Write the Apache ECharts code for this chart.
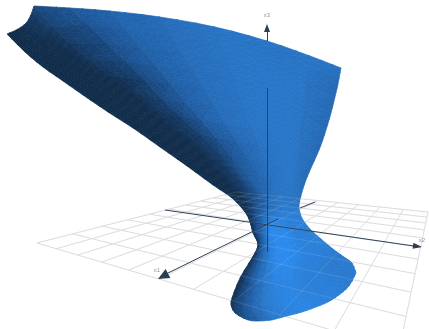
<!DOCTYPE html>
<html>
<head>
<meta charset="utf-8">
<style>html,body{margin:0;background:#fff}#main{width:429px;height:329px}</style>
<script src="https://cdn.jsdelivr.net/npm/echarts@6/dist/echarts.min.js"></script>
</head>
<body>
<div id="main"></div>
<script>
// floor ticks, one line per unit
var x1Ticks = [-5,-4,-3,-2,-1,0,1,2,3,4,5];
var x2Ticks = [-5,-4,-3,-2,-1,0,1,2,3,4,5];
// floor corners
var floorCorners = [[37,243],[399,350],[236,192],[428,212]];

// axes: visible pieces (the surface hides part of them)
var axisPieces = [[[267,41],[267,32]],[[267,252],[267,88]]];
var x1Pieces = [[[315,202],[300,208]],[[278,219],[166,274]]];
var x2Pieces = [[[165,210],[414,246]]];
// arrow heads: tip x, tip y, base x, base y, width
var arrowHeads = [[267,24,267,32,6],[158,279,168,273.5,10],[422,247,413,245.7,6]];
var axisNames = [['x1',157,270],['x2',422,240],['x3',267,15]];

// surface points, top edge to bottom edge
var meshRows = [
  [[7,34],[18,29],[27,22],[32,12],[34,6],[70,8],[110,11],[160,17],[215,27],[267,41],[310,56],[341,68]],
  [[25,52],[35,47],[44,40],[49,32],[53,27],[89,26],[125,29],[171,35],[221,44],[269,57],[308,71],[338,84]],
  [[43,67],[53,62],[62,56],[67,49],[71,44],[107,44],[141,48],[182,53],[228,61],[271,73],[307,85],[335,97]],
  [[63,81],[73,76],[81,70],[86,64],[90,60],[126,62],[156,66],[193,70],[234,78],[273,88],[305,100],[331,113]],
  [[83,95],[93,90],[101,85],[106,80],[110,76],[145,81],[171,84],[204,88],[240,95],[275,104],[303,114],[326,130]],
  [[108,112],[117,107],[124,102],[129,97],[133,93],[163,100],[186,103],[215,106],[246,112],[276,120],[301,129],[321,145]],
  [[133,128],[142,124],[148,119],[152,115],[157,112],[182,118],[202,121],[226,124],[253,129],[278,136],[300,144],[316,157]],
  [[160,147],[168,143],[174,139],[178,135],[182,132],[201,136],[217,139],[237,142],[259,146],[280,152],[298,158],[311,168]],
  [[187,166],[194,162],[199,158],[204,155],[208,153],[220,155],[232,157],[248,159],[265,163],[282,167],[296,173],[306,180]],
  [[213,185],[219,182],[224,179],[228,177],[232,175],[239,175],[248,176],[259,177],[272,180],[284,183],[295,187],[302,192]],
  [[232,198],[238,196],[243,195],[247,194],[251,194],[257,194],[263,194],[270,195],[278,197],[286,199],[293,202],[299,205]],
  [[245,212],[249,209],[253,208],[256,207],[260,207],[265,207],[270,207],[276,208],[283,209],[289,210],[295,211],[300,213]],
  [[250,222],[253,220],[256,219],[259,218],[263,218],[267,218],[272,218],[278,219],[284,219],[291,220],[297,220],[303,220]],
  [[253,233],[256,231],[259,230],[262,230],[266,230],[271,230],[276,230],[282,230],[288,230],[295,229],[302,229],[310,229]],
  [[258,245],[260,244],[262,244],[265,244],[270,244],[276,244],[282,244],[289,243],[296,242],[304,241],[312,240],[321,239]],
  [[252,258],[255,260],[258,261],[262,262],[268,262],[276,262],[284,261],[292,259],[301,257],[311,254],[322,251],[333,249]],
  [[240,278],[244,282],[249,284],[255,285],[263,285],[272,284],[282,282],[292,278],[303,274],[316,269],[330,264],[344,257]],
  [[232,298],[236,303],[243,307],[252,308],[262,307],[274,305],[287,302],[300,297],[314,291],[327,284],[341,274],[352,263]],
  [[231,305],[235,313],[248,320],[260,321],[272,320],[287,316],[302,312],[316,307],[328,302],[339,295],[349,286],[356,273]]
];
// brightness at each surface point, 0 dark to 10 bright
var meshShade = [
  [0,0,1,2,3,5,6,7,8,8,8,8],
  [0,0,0,1,2,4,6,7,8,8,8,6.5],
  [0,0,0,0,1,3.5,5.5,7,8,8.2,8,6.5],
  [0,0,0,0,1,3.5,5.5,7,8,8.2,8,6.5],
  [0,0,0,0,0,2.5,5,7,8,8.2,8,6.5],
  [0,0,0,0,0,3,5,7,8,8.2,8,6.5],
  [0,0,0,0,0.5,2,5,7,8,8.2,8,6.5],
  [0,0,0,0,0.5,2,4,6,7.5,8.2,8,6.5],
  [0,0,0,0,1,2,4,6,7.5,8.2,8,6.5],
  [0,0,0,1,1,3,5,6,7.5,8.2,8,7],
  [0,0,1,2,3,4,6,7,8,8,8,8],
  [0,1,3,4,5,6,7,8,8.5,8.5,8.5,8.5],
  [1,2,4,5,7,8,9,9,9,9,9,9],
  [0,3,5,6,9,10,10,10,9.5,9,9,9],
  [0,3,5,7,9,10,10,10,9.5,9,9,9],
  [0,3,5,7,8.5,10,10,10,9.5,9,9,8.5],
  [0,2,4,6,8,9,9.5,9.5,9,9,8.5,8.5],
  [0,2,4,6,8,9,9.5,9.5,9,9,8.5,8.5],
  [1,2,4,6,8,9,9.5,9.5,9,9,8.5,8.5]
];
var shadeStops = [[0,[16,44,75]],[5,[31,90,158]],[8,[40,116,196]],[10,[43,138,236]]];

var cornerCol = 4;   // sharp corner of the top edge
var sub = 3;         // smoothing steps per mesh cell
var flatWeight = 0.45;

function shadeColor(s) {
    for (var i = 1; i < shadeStops.length; i++) {
        if (s <= shadeStops[i][0]) {
            var a = shadeStops[i-1], b = shadeStops[i];
            var t = (s - a[0]) / (b[0] - a[0]);
            return 'rgb(' + a[1].map(function (v, k) { return Math.round(v + (b[1][k] - v) * t); }).join(',') + ')';
        }
    }
    return 'rgb(43,138,236)';
}

// floor plane: unit square to picture, through the four corners
function floorPoint(u, v) {
    var p00 = floorCorners[0], p10 = floorCorners[1], p01 = floorCorners[2], p11 = floorCorners[3];
    var d1 = [p10[0]-p11[0], p10[1]-p11[1]], d2 = [p01[0]-p11[0], p01[1]-p11[1]];
    var s = [p00[0]-p10[0]+p11[0]-p01[0], p00[1]-p10[1]+p11[1]-p01[1]];
    var det = d1[0]*d2[1]-d1[1]*d2[0];
    var g = (s[0]*d2[1]-s[1]*d2[0])/det, h = (d1[0]*s[1]-d1[1]*s[0])/det;
    var w = 1 + g*u + h*v;
    return [(p00[0] + (p10[0]-p00[0]+g*p10[0])*u + (p01[0]-p00[0]+h*p01[0])*v)/w,
            (p00[1] + (p10[1]-p00[1]+g*p10[1])*u + (p01[1]-p00[1]+h*p01[1])*v)/w];
}

var floorLines = [];
x1Ticks.forEach(function (t) {
    var u = (t + 5) / 10;
    floorLines.push({coords: [floorPoint(u, 0), floorPoint(u, 1)]});
});
x2Ticks.forEach(function (t) {
    var v = (t + 5) / 10;
    floorLines.push({coords: [floorPoint(0, v), floorPoint(1, v)]});
});

// spline through read points, like smooth:true on a line
function spline(p0, p1, p2, p3, t) {
    return 0.5 * (2*p1 + (p2-p0)*t + (2*p0-5*p1+4*p2-p3)*t*t + (3*p1-p0-3*p2+p3)*t*t*t);
}
function sampleLine(list, i, t, brk) {
    var n = list.length - 1;
    var i0 = (i === 0 || i === brk) ? i : i - 1;
    var i3 = (i + 1 === n || i + 1 === brk) ? i + 1 : i + 2;
    return spline(list[i0], list[i], list[i+1], list[i3], t);
}
// value at mesh row r+a, column c+b for a channel getter
function sampleMesh(get, r, a, c, b) {
    var column = [];
    for (var k = 0; k < meshRows.length; k++) {
        var row = [];
        for (var q = 0; q < meshRows[0].length; q++) row.push(get(k, q));
        column.push(sampleLine(row, c, b, cornerCol));
    }
    return sampleLine(column, r, a, -1);
}
function nodeAt(r, a, c, b) {
    return {
        x: sampleMesh(function (k, q) { return meshRows[k][q][0]; }, r, a, c, b),
        y: sampleMesh(function (k, q) { return meshRows[k][q][1]; }, r, a, c, b),
        s: sampleMesh(function (k, q) { return meshShade[k][q]; }, r, a, c, b)
    };
}

// fine triangles, each keeps the flat shade of its mesh facet so the facets still show
var fineCells = [];
for (var r = 0; r < meshRows.length - 1; r++) {
    for (var c = 0; c < meshRows[0].length - 1; c++) {
        var flatA = (meshShade[r][c] + meshShade[r][c+1] + meshShade[r+1][c]) / 3;
        var flatB = (meshShade[r][c+1] + meshShade[r+1][c+1] + meshShade[r+1][c]) / 3;
        for (var i = 0; i < sub; i++) {
            for (var j = 0; j < sub; j++) {
                var n00 = nodeAt(r, i/sub, c, j/sub), n01 = nodeAt(r, i/sub, c, (j+1)/sub);
                var n10 = nodeAt(r, (i+1)/sub, c, j/sub), n11 = nodeAt(r, (i+1)/sub, c, (j+1)/sub);
                var flat1 = i + j <= sub - 1 ? flatA : flatB;
                var flat2 = i + j < sub - 1 ? flatA : flatB;
                fineCells.push([n00.x, n00.y, n01.x, n01.y, n10.x, n10.y, (1-flatWeight)*(n00.s+n01.s+n10.s)/3 + flatWeight*flat1]);
                fineCells.push([n01.x, n01.y, n11.x, n11.y, n10.x, n10.y, (1-flatWeight)*(n01.s+n11.s+n10.s)/3 + flatWeight*flat2]);
            }
        }
    }
}

function renderCell(params, api) {
    var pts = [
        api.coord([api.value(0), api.value(1)]),
        api.coord([api.value(2), api.value(3)]),
        api.coord([api.value(4), api.value(5)])
    ];
    var col = shadeColor(Math.max(0, api.value(6)));
    return {
        type: 'polygon',
        shape: {points: pts},
        style: {fill: col, stroke: col, lineWidth: 0.7}
    };
}

function renderArrow(params, api) {
    var tip = api.coord([api.value(0), api.value(1)]);
    var base = api.coord([api.value(2), api.value(3)]);
    var half = api.value(4) / 2;
    var dx = tip[0] - base[0], dy = tip[1] - base[1];
    var len = Math.sqrt(dx*dx + dy*dy);
    var nx = -dy / len * half, ny = dx / len * half;
    return {
        type: 'polygon',
        shape: {points: [tip, [base[0]+nx, base[1]+ny], [base[0]-nx, base[1]-ny]]},
        style: {fill: '#2c3e50'}
    };
}

function pieces(list) {
    return list.map(function (p) { return {coords: p}; });
}

var myChart = echarts.init(document.getElementById('main'));
var option = {
    animation: false,
    backgroundColor: '#fff',
    grid: {left: 0, right: 0, top: 0, bottom: 0},
    xAxis: {type: 'value', min: 0, max: 429, show: false},
    yAxis: {type: 'value', min: 0, max: 329, inverse: true, show: false},
    series: [
        {
            type: 'lines',
            coordinateSystem: 'cartesian2d',
            data: floorLines,
            symbol: 'none',
            silent: true,
            lineStyle: {color: '#d8d8d8', width: 1, opacity: 1}
        },
        {
            type: 'custom',
            coordinateSystem: 'cartesian2d',
            data: fineCells,
            silent: true,
            progressive: 0,
            encode: {x: 0, y: 1},
            renderItem: renderCell
        },
        {
            type: 'lines',
            coordinateSystem: 'cartesian2d',
            data: floorLines,
            symbol: 'none',
            silent: true,
            lineStyle: {color: '#ffffff', width: 1, opacity: 0.12}
        },
        {
            type: 'lines',
            coordinateSystem: 'cartesian2d',
            data: pieces(axisPieces.concat(x1Pieces, x2Pieces)),
            symbol: 'none',
            silent: true,
            lineStyle: {color: '#2f4358', width: 1, opacity: 1}
        },
        {
            type: 'custom',
            coordinateSystem: 'cartesian2d',
            data: arrowHeads,
            silent: true,
            encode: {x: 0, y: 1},
            renderItem: renderArrow
        },
        {
            type: 'scatter',
            data: axisNames.map(function (n) { return {value: [n[1], n[2]], name: n[0]}; }),
            symbolSize: 0,
            silent: true,
            label: {
                show: true,
                position: 'inside',
                formatter: '{b}',
                fontFamily: 'Liberation Sans',
                fontSize: 6,
                color: '#777'
            }
        }
    ]
};
option && myChart.setOption(option);
</script>
</body>
</html>
